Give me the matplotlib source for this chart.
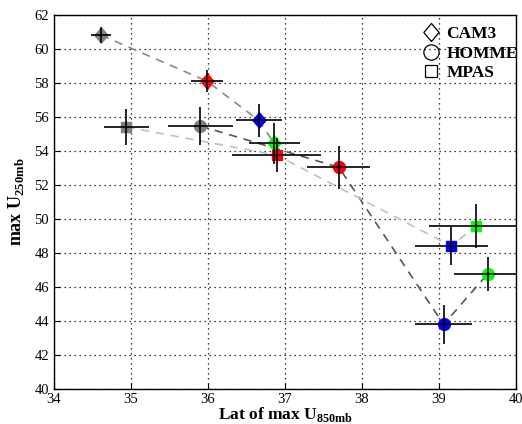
import matplotlib.pyplot as plt
from matplotlib.lines import Line2D

plt.rcParams["font.family"] = "Liberation Serif"
plt.rcParams["mathtext.fontset"] = "custom"
plt.rcParams["mathtext.rm"] = "Liberation Serif:bold"
plt.rcParams["mathtext.bf"] = "Liberation Serif:bold"

# order of points in each model: gray, red, blue, green
point_colors = ["#808080", "#ff0000", "#0000ff", "#00ff00"]

cam3_lat = [34.61, 35.99, 36.66, 36.86]
cam3_u = [60.82, 58.10, 55.80, 54.45]
cam3_lat_err = [0.13, 0.21, 0.30, 0.33]
cam3_u_err = [0.47, 0.65, 0.96, 1.20]

homme_lat = [35.90, 37.70, 39.06, 39.63]
homme_u = [55.47, 53.04, 43.80, 46.76]
homme_lat_err = [0.42, 0.41, 0.37, 0.43]
homme_u_err = [1.10, 1.25, 1.16, 1.00]

mpas_lat = [34.94, 36.89, 39.16, 39.48]
mpas_u = [55.41, 53.76, 48.41, 49.59]
mpas_lat_err = [0.29, 0.58, 0.47, 0.61]
mpas_u_err = [1.05, 0.98, 1.14, 1.27]

# MATLAB-like diamond, a bit taller than wide
diamond = [(0, -1), (0.85, 0), (0, 1), (-0.85, 0), (0, -1)]

models = [
    ("CAM3", diamond, 11, "#8a8a8a", cam3_lat, cam3_u, cam3_lat_err, cam3_u_err),
    ("HOMME", "o", 8.5, "#555555", homme_lat, homme_u, homme_lat_err, homme_u_err),
    ("MPAS", "s", 6.5, "#c0c0c0", mpas_lat, mpas_u, mpas_lat_err, mpas_u_err),
]

fig = plt.figure(figsize=(5.22, 4.24), dpi=100)
ax = fig.add_axes([0.1034, 0.0825, 0.8851, 0.8821])

for name, mk, ms, lc, lat, u, lat_err, u_err in models:
    ax.plot(lat, u, linestyle=(0, (5, 4)), color=lc, lw=1.2, zorder=2)
    for x, y, c in zip(lat, u, point_colors):
        ax.plot(x, y, marker=mk, ms=ms, color=c, mec=c, ls="none", zorder=3)
    ax.errorbar(lat, u, xerr=lat_err, yerr=u_err, fmt="none",
                ecolor="black", elinewidth=1.2, capsize=0, zorder=4)

ax.set_xlim(34, 40)
ax.set_ylim(40, 62)
ax.set_xticks(range(34, 41))
ax.set_yticks(range(40, 63, 2))
ax.grid(True, color="black", linestyle=(0, (1, 3)), linewidth=0.9)
ax.set_axisbelow(True)
ax.tick_params(direction="in", labelsize=10.5, length=4)
ax.tick_params(axis="x", pad=3)
ax.tick_params(axis="y", pad=3.5)
for sp in ax.spines.values():
    sp.set_linewidth(1.0)

ax.set_xlabel(r"Lat of max U$_{\mathbf{850mb}}$", fontsize=12.5, fontweight="bold",
              labelpad=-1)
ax.set_ylabel(r"max U$_{\mathbf{250mb}}$", fontsize=13, fontweight="bold",
              labelpad=6)

handles = [Line2D([], [], marker=m, ms=s, color="black", mfc="none", ls="none",
                  mew=0.9)
           for m, s in ((diamond, 13), ("o", 11), ("s", 9))]
leg = ax.legend(handles, ["CAM3", "HOMME", "MPAS"], loc="upper right",
                bbox_to_anchor=(1.015, 0.985),
                frameon=False, prop={"weight": "bold", "size": 12.5},
                handletextpad=0.35, labelspacing=0.2, borderaxespad=0.0,
                handlelength=1.0, borderpad=0.3)

fig.savefig("out.png", dpi=100)
